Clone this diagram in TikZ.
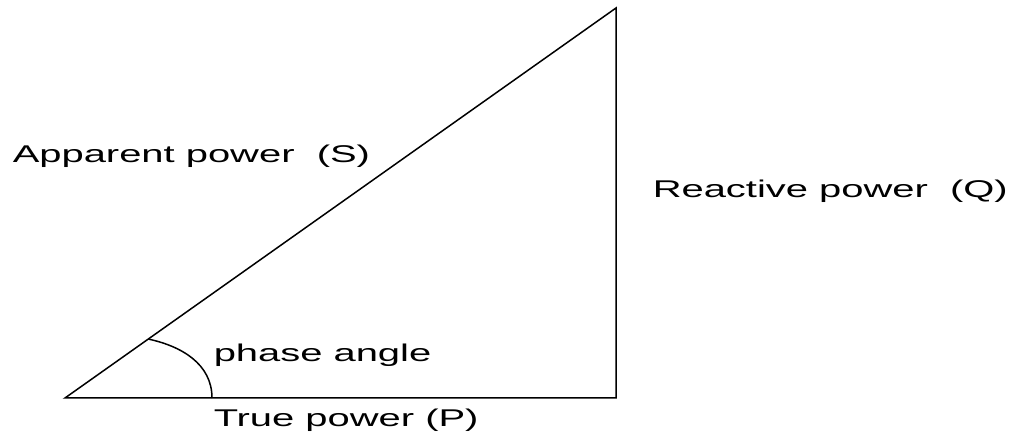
\documentclass[tikz,border=0pt]{standalone}
\usepackage{fontspec}
\setmainfont{Liberation Sans}[FakeStretch=1.65]
\usepackage{tikz}
\usetikzlibrary{positioning}

\begin{document}
\begin{tikzpicture}[x=1pt, y=1pt, line width=1.5pt,
    lbl/.style={anchor=base west, inner sep=0pt, font=\fontsize{24.2}{29}\selectfont}]
    \useasboundingbox (0,0) rectangle (1015,436);
    \coordinate (origin) at (65,38);
    \coordinate (pend) at (616,38);
    \coordinate (top) at (616,428);
    \coordinate (arcstart) at (148,97);
    \coordinate (arcend) at (212,38);
    \draw[line join=miter] (origin) -- (pend) -- (top) -- cycle;
    \draw (arcstart) to[out=-12, in=90] (arcend);
    \node[lbl] (apparent) at (12,273) {Apparent power\ \ (S)};
    \node[lbl] (reactive) at (652,238) {Reactive power\ \ (Q)};
    \node[lbl] (phase) at (213,74) {phase angle};
    \node[lbl] (true) at (213,9) {True power (P)};
\end{tikzpicture}
\end{document}
